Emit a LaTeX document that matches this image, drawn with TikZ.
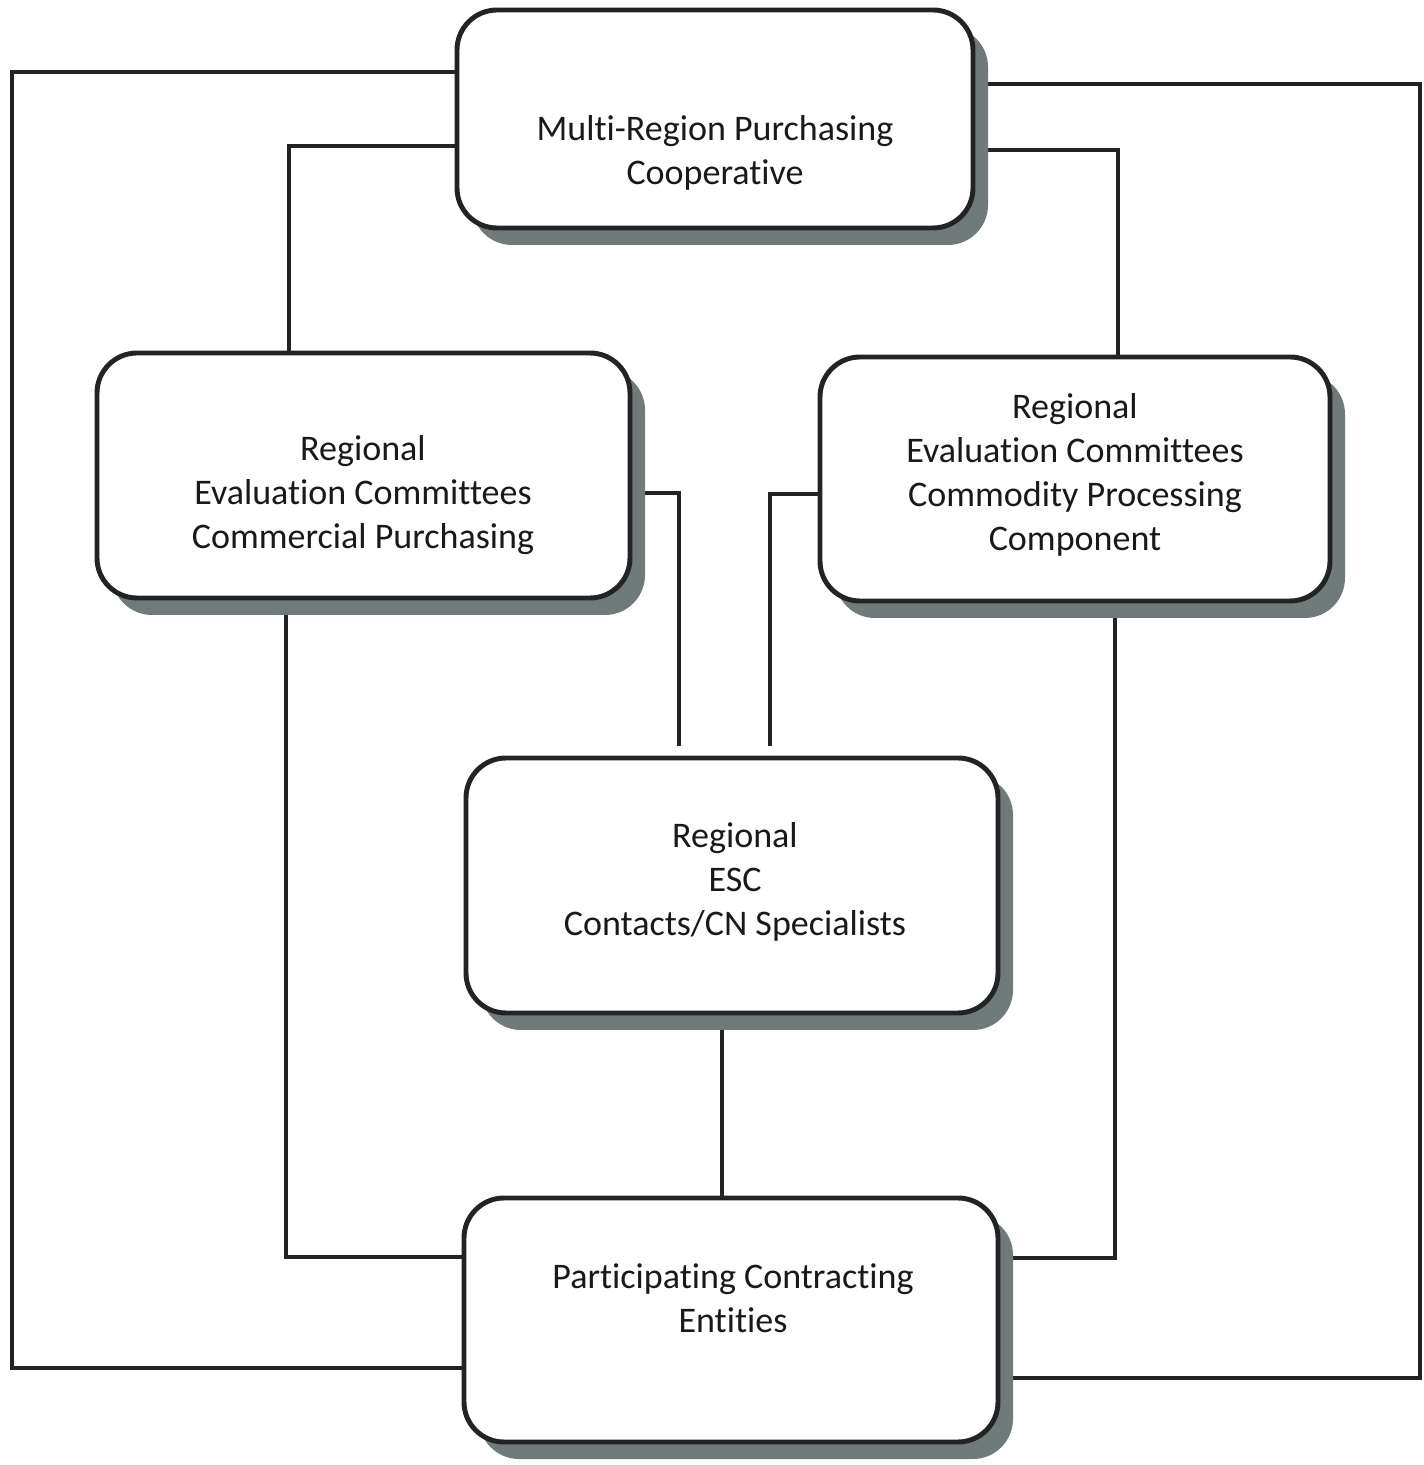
\documentclass[tikz,border=0pt]{standalone}
\usepackage{fontspec}
\setmainfont{Carlito}[Ligatures=NoCommon]
\usetikzlibrary{shadows}

\definecolor{shadowgray}{RGB}{112,122,122}
\definecolor{inkline}{RGB}{34,36,36}

\pgfdeclarelayer{background}
\pgfsetlayers{background,main}

\tikzset{
  unit/.style={draw=inkline, line width=1.4pt, fill=white, rounded corners=4mm,
    drop shadow={shadow xshift=1.5mm, shadow yshift=-1.7mm, fill=shadowgray, opacity=1}},
  unittext/.style={align=center, text=black!90, font=\fontsize{10.25}{12.5}\selectfont},
  link/.style={draw=inkline, line width=1.1pt}
}

\begin{document}
\begin{tikzpicture}
            \useasboundingbox (0, 0) rectangle (14.24, 14.65);

            % boxes
            \node[unit, minimum width=5.16cm, minimum height=2.18cm] (coop) at (7.15, 13.46) {};
            \node[unit, minimum width=5.33cm, minimum height=2.45cm] (comm) at (3.635, 9.895) {};
            \node[unit, minimum width=5.10cm, minimum height=2.44cm] (proc) at (10.75, 9.86) {};
            \node[unit, minimum width=5.32cm, minimum height=2.55cm] (esc) at (7.32, 5.795) {};
            \node[unit, minimum width=5.34cm, minimum height=2.44cm] (pce) at (7.31, 1.45) {};

            \node[unittext] (cooptext) at (7.15, 13.12) {Multi-Region Purchasing\\Cooperative};
            \node[unittext] (commtext) at (3.63, 9.70) {Regional\\Evaluation Committees\\Commercial Purchasing};
            \node[unittext] (proctext) at (10.75, 9.90) {Regional\\Evaluation Committees\\Commodity Processing\\Component};
            \node[unittext] (esctext) at (7.35, 5.83) {Regional\\ESC\\Contacts/CN Specialists};
            \node[unittext] (pcetext) at (7.33, 1.67) {Participating Contracting\\Entities};

            % turning points of the outer lines
            \coordinate (outerleft) at (0.12, 0.97);
            \coordinate (outerright) at (14.20, 0.87);

            \begin{pgfonlayer}{background}
            \draw[link] ([yshift=4.7mm]coop.west) -| (outerleft) -- (outerleft -| pce.west);
            \draw[link] ([yshift=-2.7mm]coop.west) -| ([xshift=-7.45mm]comm.north);
            \draw[link] ([yshift=3.5mm]coop.east) -| (outerright) -- (outerright -| pce.east);
            \draw[link] ([yshift=-3.1mm]coop.east) -| ([xshift=4.3mm]proc.north);

            \draw[link] ([yshift=-1.75mm]comm.east) -| ([xshift=-5.3mm, yshift=1mm]esc.north);
            \draw[link] ([yshift=-1.5mm]proc.west) -| ([xshift=3.8mm, yshift=1mm]esc.north);
            \draw[link] ([xshift=-1mm]esc.south) -- ([xshift=-1mm]esc.south |- pce.north);

            \draw[link] ([xshift=-7.75mm]comm.south) |- ([yshift=6.3mm]pce.west);
            \draw[link] ([xshift=4mm]proc.south) |- ([yshift=6.2mm]pce.east);
            \end{pgfonlayer}
\end{tikzpicture}
\end{document}
